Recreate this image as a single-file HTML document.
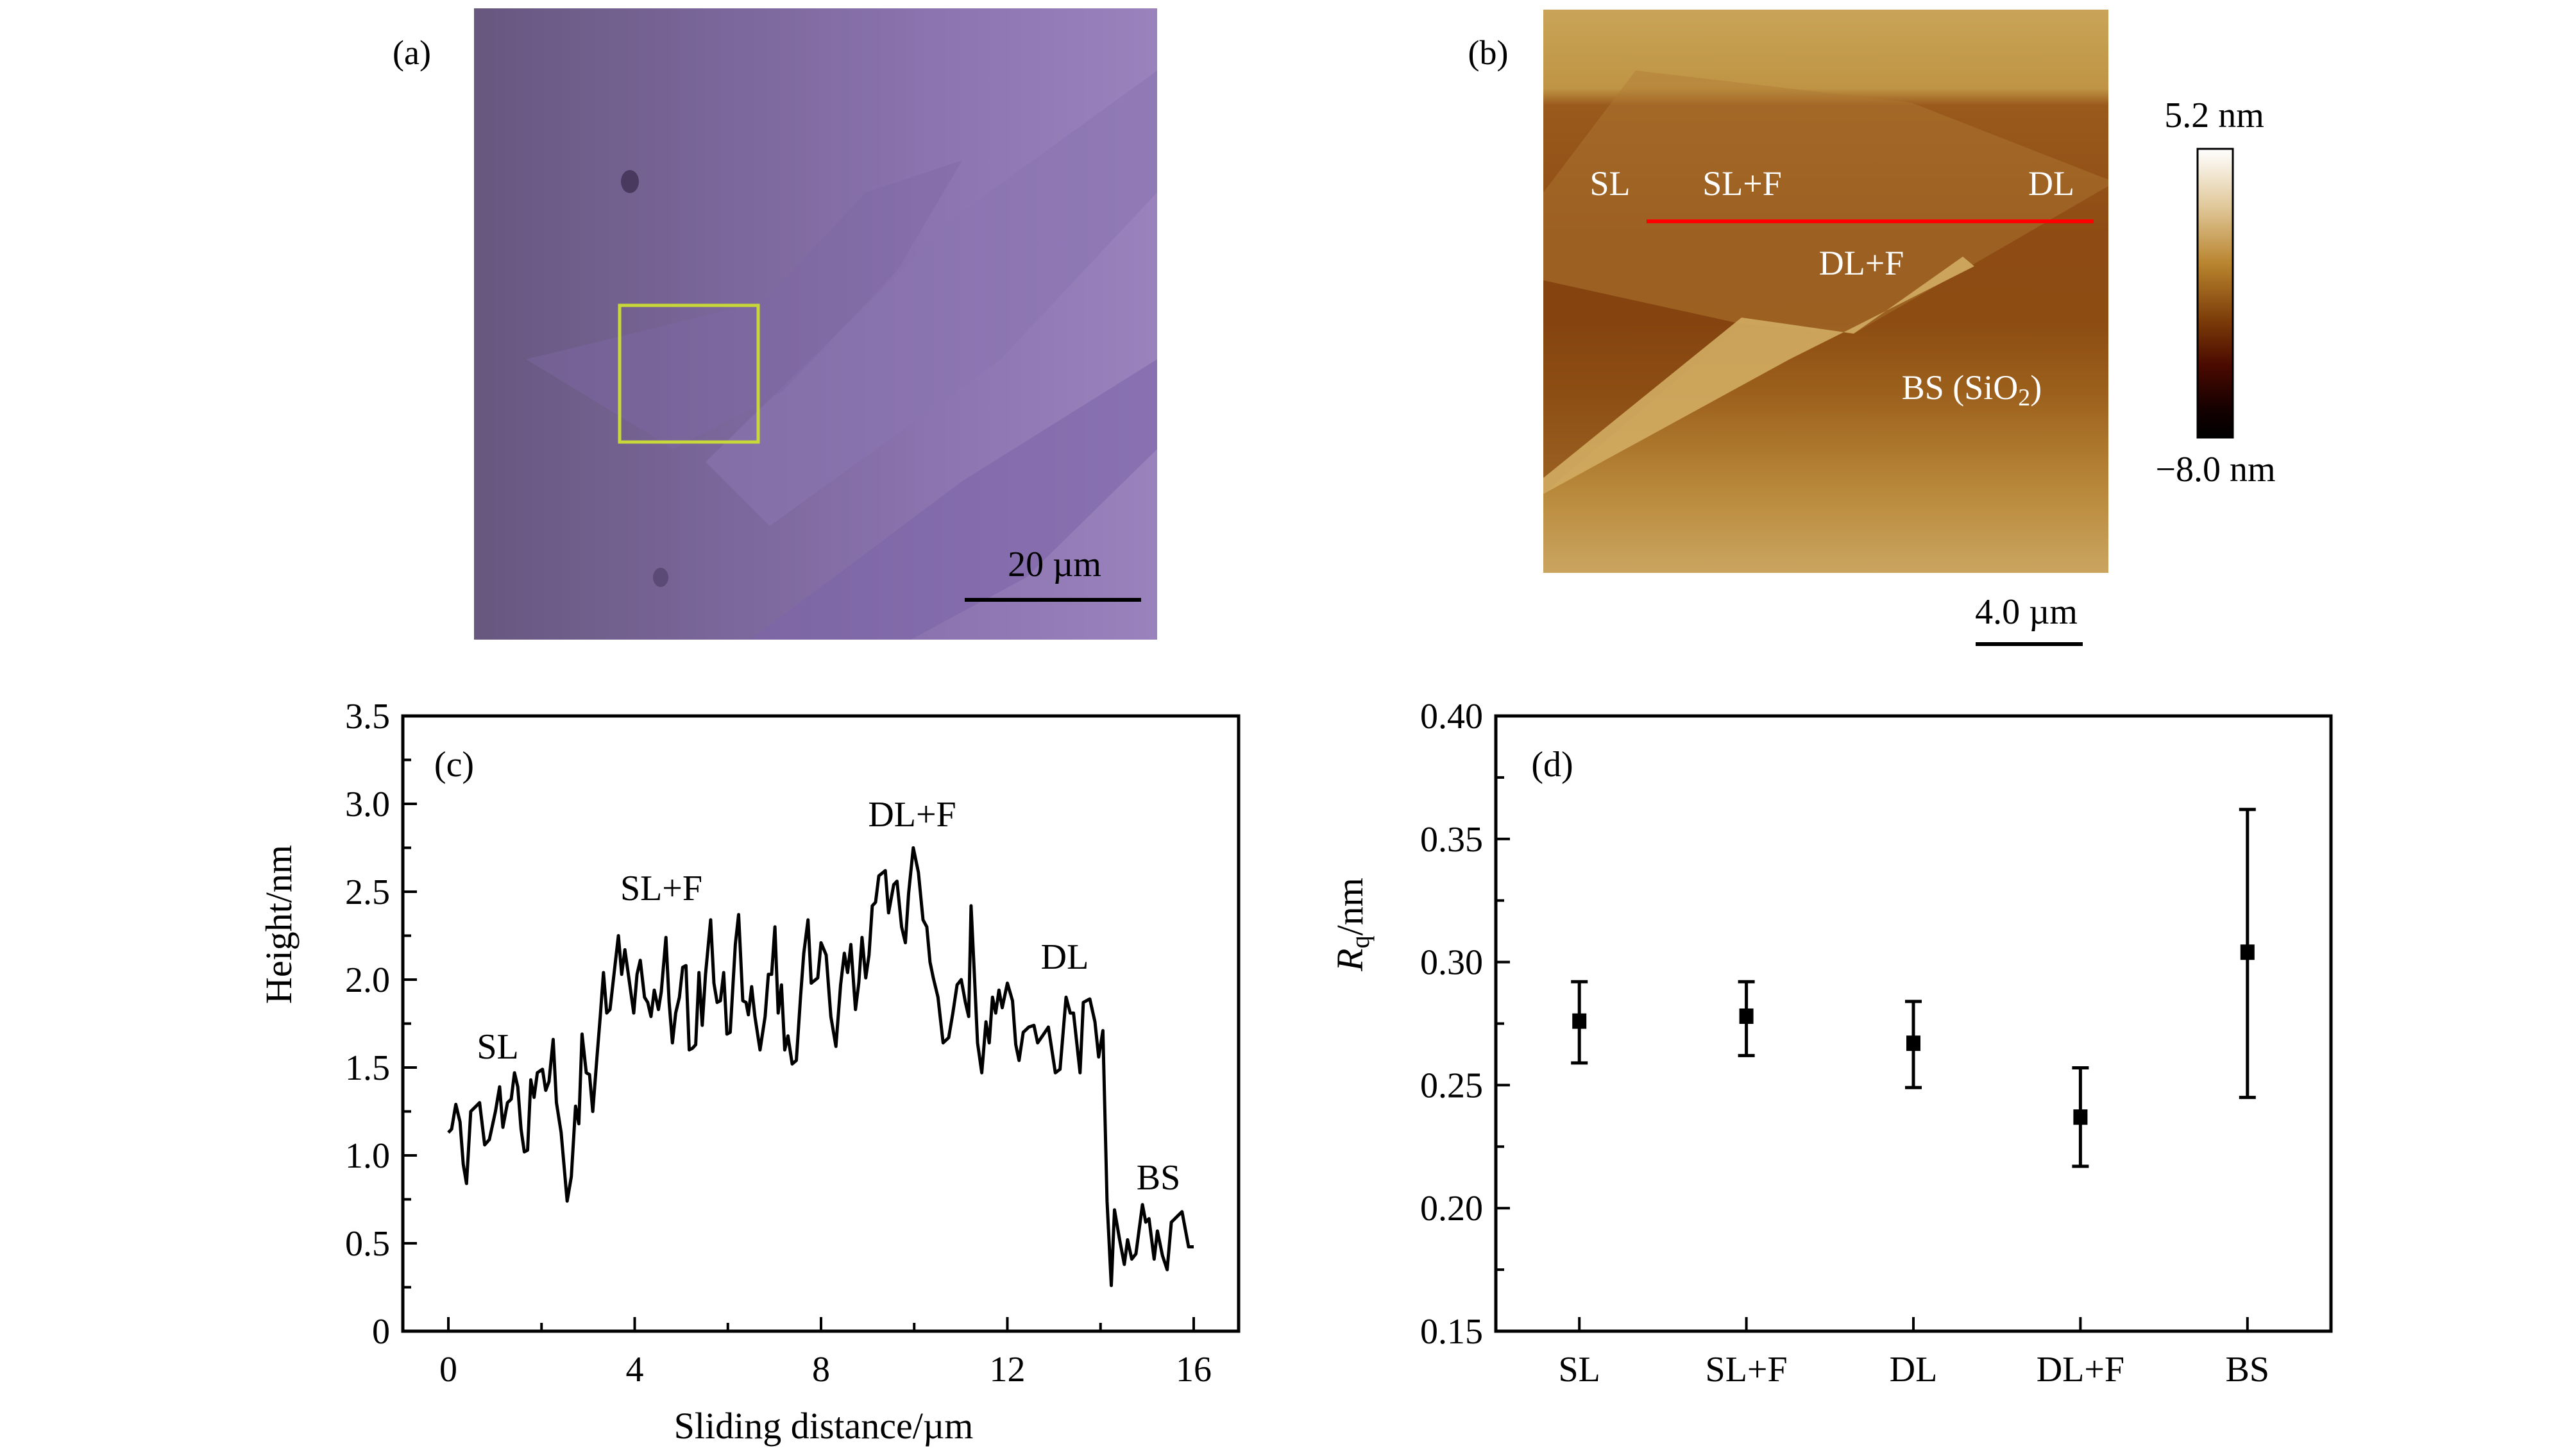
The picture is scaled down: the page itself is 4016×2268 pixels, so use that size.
<!DOCTYPE html>
<html><head><meta charset="utf-8"><style>
html,body{margin:0;padding:0;background:#fff;}
svg{display:block;}
text{font-family:"Liberation Serif",serif;fill:#000;}
</style></head><body>
<svg id="fig" width="4016" height="2268" viewBox="0 0 4016 2268" xmlns="http://www.w3.org/2000/svg">
<defs>
<linearGradient id="purp" x1="0" y1="0" x2="1" y2="0">
<stop offset="0" stop-color="#67577f"/><stop offset="0.35" stop-color="#7a6699"/><stop offset="0.7" stop-color="#8d75b1"/><stop offset="1" stop-color="#9a82bd"/>
</linearGradient>
<linearGradient id="afm" x1="0" y1="0" x2="0" y2="1">
<stop offset="0" stop-color="#c9a458"/><stop offset="0.14" stop-color="#bf9444"/><stop offset="0.17" stop-color="#9a5a1c"/><stop offset="0.4" stop-color="#8e4c14"/><stop offset="0.55" stop-color="#8c4c12"/><stop offset="0.68" stop-color="#9c601c"/><stop offset="0.85" stop-color="#b8883a"/><stop offset="1" stop-color="#caa560"/>
</linearGradient>
<linearGradient id="cbar" x1="0" y1="0" x2="0" y2="1">
<stop offset="0" stop-color="#ffffff"/><stop offset="0.2" stop-color="#e0c89a"/><stop offset="0.4" stop-color="#b8842e"/><stop offset="0.6" stop-color="#7a3a08"/><stop offset="0.75" stop-color="#4a0a00"/><stop offset="0.9" stop-color="#150000"/><stop offset="1" stop-color="#000"/>
</linearGradient>
</defs>

<g>
<rect x="739" y="13" width="1065" height="984" fill="url(#purp)"/>
<polygon points="1100,720 1500,330 1804,110 1804,300 1560,560 1200,820" fill="#8a74b0" opacity="0.6"/>
<polygon points="1170,997 1500,750 1804,560 1804,700 1600,900 1420,997" fill="#7c64a8" opacity="0.55"/>
<polygon points="820,560 1190,470 1350,300 1500,250 1400,420 1220,610 1050,700" fill="#7e68a4" opacity="0.45"/>
<ellipse cx="982" cy="283" rx="14" ry="18" fill="#3e2f52" opacity="0.8"/>
<ellipse cx="1030" cy="900" rx="12" ry="15" fill="#4a3a60" opacity="0.6"/>
<rect x="966" y="476" width="216" height="213" fill="none" stroke="#c8d838" stroke-width="5"/>
<line x1="1504" y1="935" x2="1779" y2="935" stroke="#000" stroke-width="6"/>
<text x="1644" y="898" font-size="56" text-anchor="middle">20 µm</text>
<text x="642" y="100" font-size="54" text-anchor="middle">(a)</text>
</g>

<g>
<rect x="2406" y="15" width="881" height="878" fill="url(#afm)"/>
<polygon points="2550,110 2980,160 3287,280 3287,290 3080,410 2890,520 2715,505 2406,437 2406,300" fill="#b07a36" opacity="0.45"/>
<polygon points="2406,437 2715,505 2406,770" fill="#7e3c0c" opacity="0.5"/>
<polygon points="2406,770 2406,745 2715,495 2890,520 3060,400 3078,415 2870,520 2790,560" fill="#d2ac62" opacity="0.9"/>
<line x1="2567" y1="345" x2="3264" y2="345" stroke="#ff0000" stroke-width="6"/>
<text x="2510" y="304" font-size="54" text-anchor="middle" style="fill:#fff">SL</text>
<text x="2716" y="304" font-size="54" text-anchor="middle" style="fill:#fff">SL+F</text>
<text x="3198" y="304" font-size="54" text-anchor="middle" style="fill:#fff">DL</text>
<text x="2902" y="428" font-size="54" text-anchor="middle" style="fill:#fff">DL+F</text>
<text x="3074" y="622" font-size="54" text-anchor="middle" style="fill:#fff">BS (SiO<tspan font-size="38" dy="10">2</tspan><tspan dy="-10">)</tspan></text>
<text x="2320" y="100" font-size="54" text-anchor="middle">(b)</text>
<rect x="3426" y="232" width="55" height="450" fill="url(#cbar)" stroke="#000" stroke-width="3"/>
<text x="3452" y="198" font-size="56" text-anchor="middle">5.2 nm</text>
<text x="3454" y="750" font-size="56" text-anchor="middle">−8.0 nm</text>
<line x1="3080" y1="1004" x2="3247" y2="1004" stroke="#000" stroke-width="6"/>
<text x="3159" y="972" font-size="56" text-anchor="middle">4.0 µm</text>
</g>

<g id="chartC"></g>
<g id="chartD"></g>
</svg>
<script>
const profileX = [0,0.07,0.16,0.25,0.32,0.39,0.48,0.67,0.78,0.88,1.01,1.10,1.17,1.27,1.35,1.42,1.49,1.56,1.63,1.70,1.77,1.84,1.91,2.02,2.09,2.16,2.25,2.32,2.42,2.55,2.64,2.73,2.80,2.87,2.96,3.03,3.10,3.19,3.26,3.33,3.40,3.47,3.56,3.65,3.72,3.79,3.89,3.98,4.05,4.12,4.21,4.28,4.35,4.42,4.51,4.57,4.67,4.74,4.81,4.88,4.96,5.03,5.10,5.17,5.24,5.31,5.38,5.45,5.52,5.63,5.70,5.77,5.84,5.91,5.98,6.05,6.16,6.23,6.32,6.39,6.44,6.51,6.58,6.69,6.80,6.87,6.94,7.01,7.08,7.15,7.22,7.29,7.38,7.47,7.56,7.63,7.72,7.79,7.93,8.00,8.11,8.21,8.32,8.42,8.50,8.57,8.64,8.74,8.81,8.88,8.96,9.03,9.10,9.17,9.24,9.38,9.45,9.56,9.63,9.73,9.81,9.88,9.98,10.09,10.19,10.27,10.34,10.41,10.51,10.62,10.74,10.83,10.92,11.01,11.10,11.17,11.22,11.29,11.36,11.45,11.54,11.61,11.68,11.75,11.82,11.89,12.00,12.11,12.18,12.25,12.34,12.46,12.57,12.65,12.78,12.88,13.03,13.13,13.26,13.35,13.42,13.56,13.63,13.77,13.88,13.96,14.05,14.14,14.23,14.30,14.41,14.51,14.58,14.67,14.76,14.90,14.97,15.04,15.15,15.22,15.33,15.43,15.52,15.75,15.89,16.00];
const profileY = [1.13,1.15,1.29,1.19,0.95,0.84,1.25,1.30,1.06,1.09,1.25,1.39,1.16,1.30,1.32,1.47,1.39,1.15,1.02,1.03,1.43,1.33,1.47,1.49,1.37,1.42,1.66,1.30,1.13,0.74,0.88,1.28,1.18,1.69,1.47,1.46,1.25,1.56,1.79,2.04,1.81,1.83,2.04,2.25,2.03,2.17,1.98,1.81,2.03,2.11,1.90,1.87,1.79,1.94,1.83,1.93,2.24,1.87,1.64,1.81,1.90,2.07,2.08,1.60,1.61,1.63,2.04,1.74,2.03,2.34,1.98,1.87,1.88,2.04,1.69,1.70,2.20,2.37,1.88,1.87,1.80,1.96,1.79,1.60,1.79,2.03,2.03,2.30,1.81,1.97,1.60,1.68,1.52,1.54,1.90,2.15,2.34,1.98,2.01,2.21,2.14,1.79,1.62,1.97,2.15,2.04,2.20,1.83,1.98,2.24,2.01,2.14,2.42,2.44,2.59,2.62,2.38,2.54,2.56,2.30,2.21,2.49,2.75,2.61,2.34,2.30,2.10,2.01,1.90,1.64,1.67,1.81,1.97,2.00,1.87,1.79,2.42,2.04,1.64,1.47,1.76,1.64,1.90,1.81,1.94,1.84,1.98,1.88,1.63,1.54,1.70,1.73,1.74,1.64,1.69,1.73,1.47,1.49,1.90,1.81,1.81,1.47,1.87,1.89,1.76,1.56,1.71,0.74,0.26,0.69,0.52,0.38,0.52,0.41,0.44,0.72,0.62,0.64,0.41,0.57,0.43,0.35,0.62,0.68,0.48,0.48];
const profileXTicks = [0,4,8,12,16];
const profileYTicks = ["0","0.5","1.0","1.5","2.0","2.5","3.0","3.5"];

const categories = ["SL","SL+F","DL","DL+F","BS"];
const rqValues = [0.276,0.278,0.267,0.237,0.304];
const rqLow = [0.259,0.262,0.249,0.217,0.245];
const rqHigh = [0.292,0.292,0.284,0.257,0.362];
const rqYTicks = ["0.15","0.20","0.25","0.30","0.35","0.40"];

const NS = "http://www.w3.org/2000/svg";
function mk(parent, tag, attrs, txt){
  const e = document.createElementNS(NS, tag);
  for (const k in attrs) e.setAttribute(k, attrs[k]);
  if (txt !== undefined) e.textContent = txt;
  parent.appendChild(e);
  return e;
}

(function(){
  const g = document.getElementById('chartC');
  const L=628, R=1931, T=1116, B=2075;
  const xs = v => 699 + (v-0)/(16-0)*(1861-699);
  const ys = v => B - v/3.5*(B-T);
  for (let k=0; k<=14; k++){
    const v = k*0.25;
    const major = k%2===0;
    const t = mk(g,'line',{x1:L,x2:L+(major?22:13),y1:ys(v),y2:ys(v),stroke:'#000','stroke-width':4});
    
    
  }
  profileYTicks.forEach(s=>{
    const t = mk(g,'text',{x:608,y:ys(parseFloat(s))+19,'font-size':56,'text-anchor':'end'},s);
    
    
  });
  for (let v=0; v<=16; v+=2){
    const major = v%4===0;
    const t = mk(g,'line',{x1:xs(v),x2:xs(v),y1:B,y2:B-(major?22:13),stroke:'#000','stroke-width':4});
    
    
  }
  profileXTicks.forEach(v=>{
    const t = mk(g,'text',{x:xs(v),y:2153,'font-size':56,'text-anchor':'middle'},String(v));
    
    
  });
  const d = profileX.map((x,i)=>(i?'L':'M')+xs(x).toFixed(1)+' '+ys(profileY[i]).toFixed(1)).join(' ');
  const p = mk(g,'path',{d:d,fill:'none',stroke:'#000','stroke-width':5,'stroke-linejoin':'round'});
  
  
  const box = mk(g,'rect',{x:L,y:T,width:R-L,height:B-T,fill:'none',stroke:'#000','stroke-width':5});
  
  
  const yt = mk(g,'text',{x:0,y:0,'font-size':58,'text-anchor':'middle',transform:'translate(454,1441) rotate(-90)'},'Height/nm');
  
  
  const xt = mk(g,'text',{x:1284,y:2242,'font-size':58,'text-anchor':'middle'},'Sliding distance/µm');
  
  
  const ann = [["(c)",708,1210],["SL",776,1650],["SL+F",1031,1403],["DL+F",1422,1288],["DL",1660,1510],["BS",1806,1854]];
  ann.forEach(a=>{
    const t = mk(g,'text',{x:a[1],y:a[2],'font-size':56,'text-anchor':'middle'},a[0]);
    
    
  });
})();

(function(){
  const g = document.getElementById('chartD');
  const L=2332, R=3634, T=1116, B=2075;
  const xs = i => L + (i+0.5)/categories.length*(R-L);
  const ys = v => B - (v-0.15)/(0.40-0.15)*(B-T);
  for (let k=0; k<=10; k++){
    const v = 0.15 + k*0.025;
    const major = k%2===0;
    const t = mk(g,'line',{x1:L,x2:L+(major?22:13),y1:ys(v),y2:ys(v),stroke:'#000','stroke-width':4});
    
    
  }
  rqYTicks.forEach(s=>{
    const t = mk(g,'text',{x:2312,y:ys(parseFloat(s))+19,'font-size':56,'text-anchor':'end'},s);
    
    
  });
  categories.forEach((c,i)=>{
    const t = mk(g,'line',{x1:xs(i),x2:xs(i),y1:B,y2:B-22,stroke:'#000','stroke-width':4});
    
    
    const l = mk(g,'text',{x:xs(i),y:2153,'font-size':56,'text-anchor':'middle'},c);
    
    
    const e = mk(g,'path',{d:`M${xs(i)} ${ys(rqLow[i])}V${ys(rqHigh[i])}M${xs(i)-13} ${ys(rqLow[i])}H${xs(i)+13}M${xs(i)-13} ${ys(rqHigh[i])}H${xs(i)+13}`,stroke:'#000','stroke-width':5,fill:'none'});
    
    
    const m = mk(g,'rect',{x:xs(i)-11,y:ys(rqValues[i])-12,width:22,height:24,fill:'#000'});
    
    
  });
  const box = mk(g,'rect',{x:L,y:T,width:R-L,height:B-T,fill:'none',stroke:'#000','stroke-width':5});
  
  
  const yt = mk(g,'text',{x:0,y:0,'font-size':58,'text-anchor':'middle',transform:'translate(2124,1441) rotate(-90)'});
  
  
  mk(yt,'tspan',{'font-style':'italic'},'R');
  mk(yt,'tspan',{'font-size':40,dy:10},'q');
  mk(yt,'tspan',{dy:-10},'/nm');
  const lab = mk(g,'text',{x:2420,y:1210,'font-size':56,'text-anchor':'middle'},'(d)');
  
  
})();
</script>
</body></html>
